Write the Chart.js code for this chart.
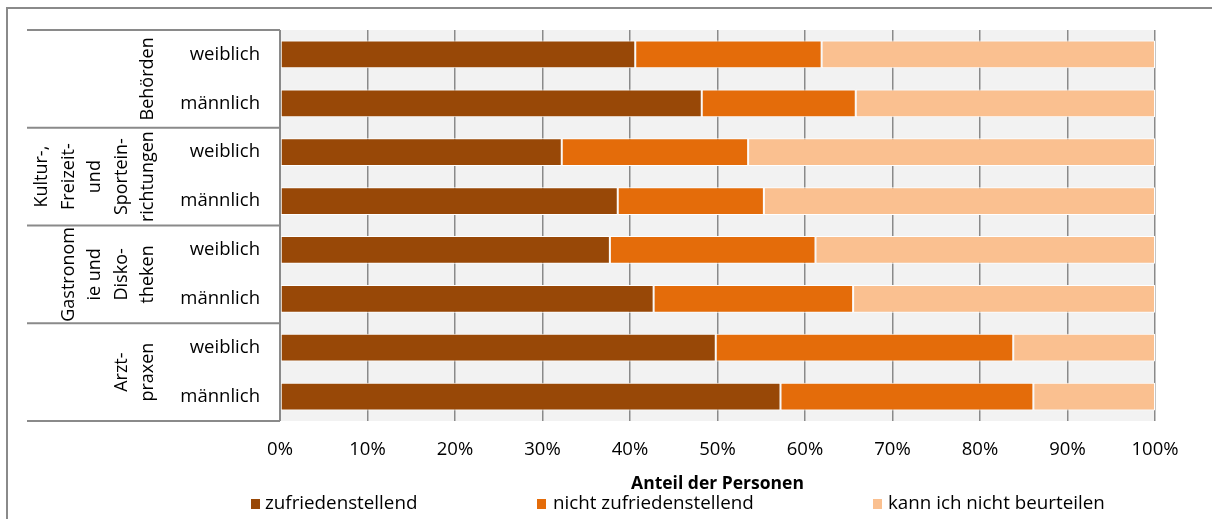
<!DOCTYPE html>
<html lang="de">
<head>
<meta charset="utf-8">
<title>Zufriedenheit nach Einrichtung und Geschlecht</title>
<script src="https://cdn.jsdelivr.net/npm/chart.js@4.4.1/dist/chart.umd.min.js"></script>
<style>
  html, body { margin: 0; padding: 0; background: #ffffff; }
  #wrap { width: 1212px; height: 519px; position: relative; }
</style>
</head>
<body>
<div id="wrap"><canvas id="chart" width="1212" height="519"></canvas></div>
<script>
// Rows, top to bottom
const categories = ['weiblich', 'männlich', 'weiblich', 'männlich', 'weiblich', 'männlich', 'weiblich', 'männlich'];

// Group labels (two rows each), already wrapped into lines
const groupLabels = [
  ['Behörden'],
  ['Kultur-,', 'Freizeit-', 'und', 'Sportein-', 'richtungen'],
  ['Gastronom', 'ie und', 'Disko-', 'theken'],
  ['Arzt-', 'praxen']
];

// Shares in percent
const zufrieden      = [40.6, 48.2, 32.2, 38.6, 37.7, 42.7, 49.8, 57.2];
const nichtZufrieden = [21.3, 17.6, 21.3, 16.7, 23.5, 22.8, 34.0, 28.9];
const kannNicht      = [38.1, 34.2, 46.5, 44.7, 38.8, 34.5, 16.2, 13.9];

const seriesNames = ['zufriedenstellend', 'nicht zufriedenstellend', 'kann ich nicht beurteilen'];
const seriesColors = ['#984807', '#e46c0a', '#fac090'];

const tickLabels = ['0%', '10%', '20%', '30%', '40%', '50%', '60%', '70%', '80%', '90%', '100%'];
const axisTitle = 'Anteil der Personen';

const FONT = '"Open Sans", "DejaVu Sans", sans-serif';
const LINE = '#8a8a8a';

// Grey plot background behind grid and bars
const plotBackground = {
  id: 'plotBackground',
  beforeDraw(chart) {
    const { ctx, chartArea: a } = chart;
    ctx.save();
    ctx.fillStyle = '#f2f2f2';
    ctx.fillRect(a.left, a.top, a.right - a.left, a.bottom - a.top);
    ctx.restore();
  }
};

// Frame, two-level category table on the left, axis title and legend
const decorations = {
  id: 'decorations',
  afterDraw(chart) {
    const { ctx, chartArea: a } = chart;
    const y = chart.scales.y;
    ctx.save();

    // outer frame (left and top)
    ctx.strokeStyle = LINE;
    ctx.lineWidth = 2;
    ctx.beginPath();
    ctx.moveTo(7, 519);
    ctx.lineTo(7, 8);
    ctx.lineTo(1212, 8);
    ctx.stroke();

    // vertical axis line
    ctx.beginPath();
    ctx.moveTo(a.left, a.top);
    ctx.lineTo(a.left, a.bottom);
    ctx.stroke();

    // group separators
    const n = categories.length;
    const band = (a.bottom - a.top) / n;
    ctx.beginPath();
    for (let g = 0; g <= groupLabels.length; g++) {
      const yy = a.top + g * 2 * band;
      ctx.moveTo(27, yy);
      ctx.lineTo(a.left, yy);
    }
    ctx.stroke();

    // inner labels
    ctx.fillStyle = '#000';
    ctx.font = '18.5px ' + FONT;
    ctx.textAlign = 'right';
    ctx.textBaseline = 'middle';
    categories.forEach((c, i) => {
      ctx.fillText(c, 260, y.getPixelForValue(i));
    });

    // rotated group labels
    ctx.font = '18px ' + FONT;
    ctx.textAlign = 'center';
    const lineGap = 26.5;
    groupLabels.forEach((lines, g) => {
      const cy = (y.getPixelForValue(2 * g) + y.getPixelForValue(2 * g + 1)) / 2;
      const lastX = 147;
      lines.forEach((txt, k) => {
        const cx = lastX - (lines.length - 1 - k) * lineGap;
        ctx.save();
        ctx.translate(cx, cy);
        ctx.rotate(-Math.PI / 2);
        ctx.fillText(txt, 0, 1);
        ctx.restore();
      });
    });

    // axis title
    ctx.font = 'bold 17.5px ' + FONT;
    ctx.textAlign = 'center';
    ctx.fillText(axisTitle, (a.left + a.right) / 2, 484);

    // legend
    const markX = [251, 537, 873];
    const textX = [265, 553, 888];
    ctx.font = '18.8px ' + FONT;
    ctx.textAlign = 'left';
    seriesNames.forEach((name, i) => {
      ctx.fillStyle = seriesColors[i];
      ctx.fillRect(markX[i], 499, 9, 10);
      ctx.fillStyle = '#000';
      ctx.fillText(name, textX[i], 504);
    });

    ctx.restore();
  }
};

const values = [zufrieden, nichtZufrieden, kannNicht];

new Chart(document.getElementById('chart'), {
  type: 'bar',
  data: {
    labels: categories,
    datasets: seriesNames.map((name, i) => ({
      label: name,
      data: values[i],
      backgroundColor: seriesColors[i],
      borderColor: '#ffffff',
      borderWidth: 1,
      borderSkipped: false,
      barPercentage: 0.57,
      categoryPercentage: 1
    }))
  },
  options: {
    indexAxis: 'y',
    responsive: false,
    animation: false,
    devicePixelRatio: 1,
    layout: { padding: { left: 280, right: 57, top: 30, bottom: 0 } },
    plugins: {
      legend: { display: false },
      tooltip: { enabled: false }
    },
    scales: {
      x: {
        stacked: true,
        min: 0,
        max: 100,
        border: { display: false },
        grid: { color: LINE, lineWidth: 1.5, drawTicks: false },
        ticks: {
          stepSize: 10,
          padding: 18,
          color: '#000',
          font: { family: FONT, size: 18.5 },
          callback: (v, i) => tickLabels[i]
        },
        afterFit(scale) { scale.height = 98; }
      },
      y: {
        stacked: true,
        display: false
      }
    }
  },
  plugins: [plotBackground, decorations]
});
</script>
</body>
</html>
